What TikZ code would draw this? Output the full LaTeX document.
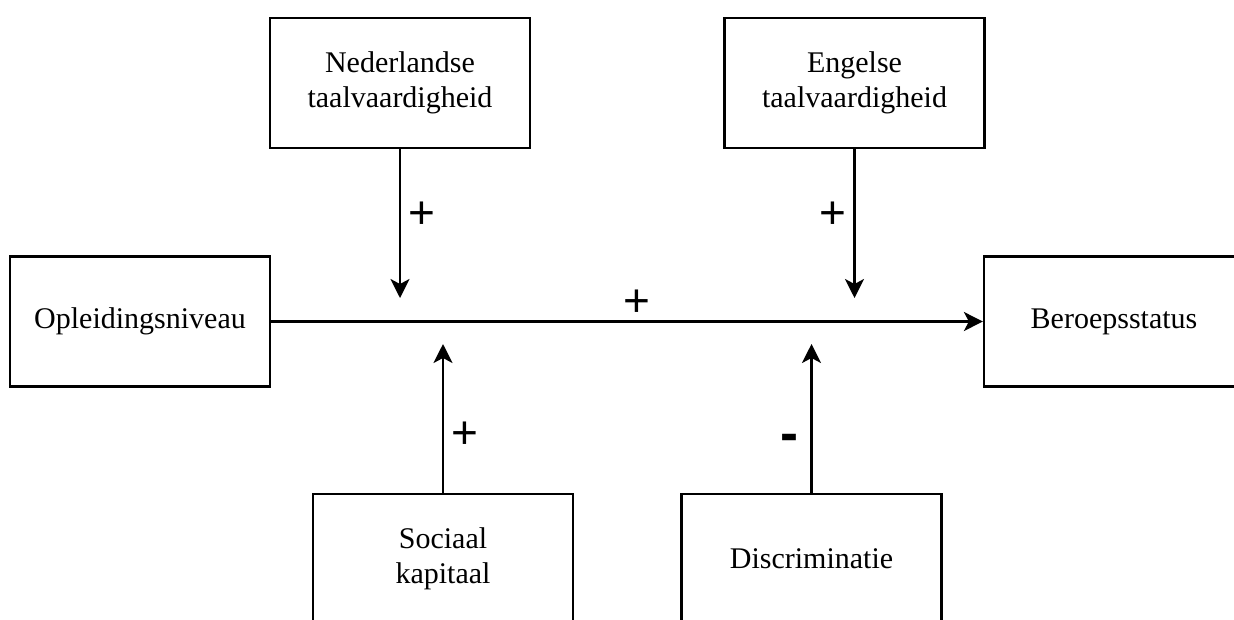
\documentclass[tikz,border=0pt]{standalone}
\usepackage{fontspec}
\setmainfont{Liberation Serif}
\newfontfamily\signfont{Liberation Sans}
\usetikzlibrary{positioning,arrows.meta}

\begin{document}
\begin{tikzpicture}[x=1pt,y=-1pt,node distance=215pt,on grid,auto,line width=2.2pt,
    >={Stealth[length=19pt,width=19pt,inset=5pt]}]

    \tikzset{box/.style={draw,rectangle,minimum width=260pt,minimum height=130pt,align=center,
        font=\fontsize{30}{35}\selectfont}}
    \tikzset{sign/.style={font=\signfont\fontsize{46}{46}\selectfont,inner xsep=7pt,inner ysep=3.5pt}}
    \useasboundingbox (0,0) rectangle (1234,619);

    \node[box] (opl) at (140,321.5) {Opleidingsniveau};
    \node[box] (beroep) [right = 974pt of opl] {Beroepsstatus};
    \node[box] (ned) [above right = 238.5pt and 260pt of opl] {Nederlandse\\taalvaardigheid};
    \node[box] (eng) [right = 454.5pt of ned] {Engelse\\taalvaardigheid};
    \node[box] (soc) [below right = 237.5pt and 303pt of opl] {Sociaal\\kapitaal};
    \node[box] (disc) [right = 368.5pt of soc] {Discriminatie};
    \coordinate [below = of ned] (nedend);
    \coordinate [below = of eng] (engend);
    \coordinate [above = of soc] (socend);
    \coordinate [above = of disc] (discend);

    \path[->]
    (opl)
    edge [] node [sign,pos=0.514] {+} (beroep)
    (ned)
    edge [] node [sign,pos=0.447] {+} (nedend)
    (eng)
    edge [] node [sign,swap,pos=0.447] {+} (engend)
    (soc)
    edge [] node [sign,swap,pos=0.39] {+} (socend)
    (disc)
    edge [] node [sign,pos=0.335,inner xsep=12pt,font=\signfont\bfseries\fontsize{54}{54}\selectfont] {-} (discend)
    ;
\end{tikzpicture}
\end{document}
